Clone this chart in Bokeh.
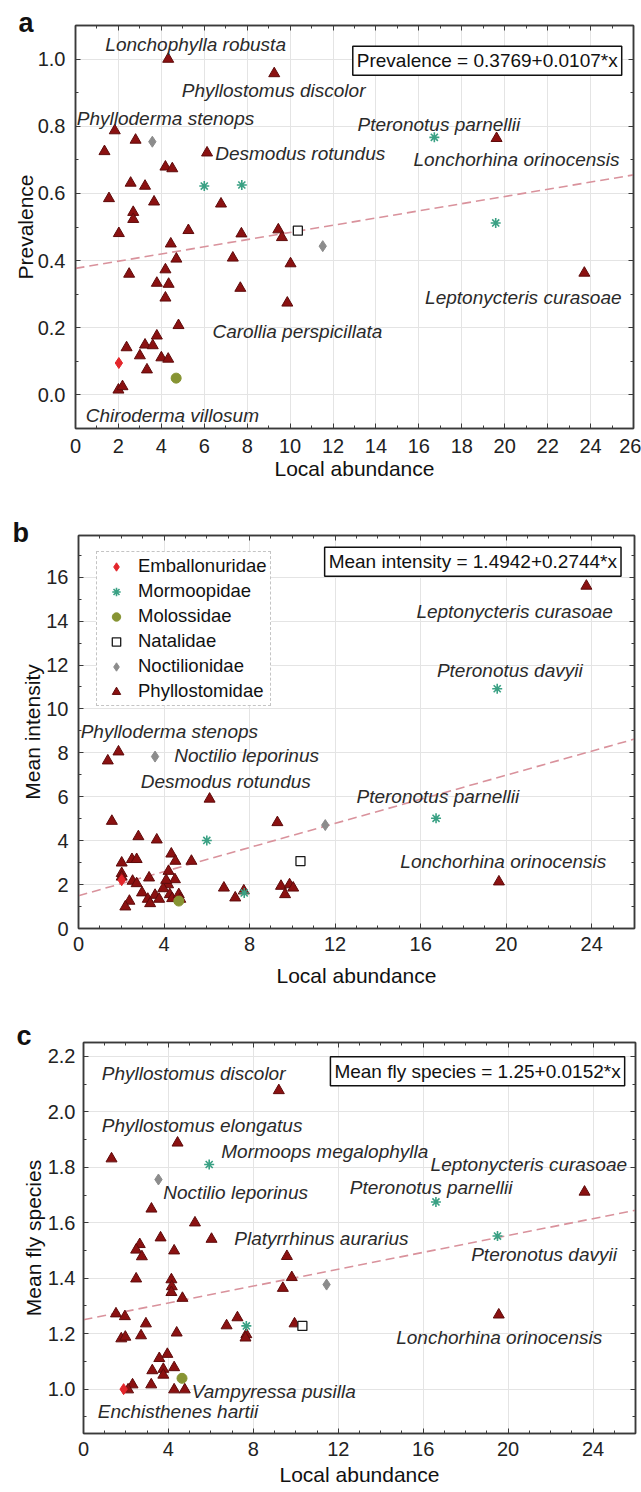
from bokeh.plotting import figure
from bokeh.models import (Range1d, SingleIntervalTicker, LinearAxis, Label, Legend, LegendItem,
                          ColumnDataSource, NumeralTickFormatter)
from bokeh.layouts import column
from bokeh.embed import file_html
from bokeh.resources import INLINE
from bokeh.core.properties import value

FONT = "Liberation Sans"

families = ["Emballonuridae", "Mormoopidae", "Molossidae", "Natalidae", "Noctilionidae", "Phyllostomidae"]

# ---------------- Panel a: Prevalence ----------------
a_phyllo_x = [4.32, 9.26, 1.83, 2.8, 1.35, 6.13, 4.19, 4.51, 2.57, 3.24, 1.56, 3.66, 6.78, 2.69, 2.69,
              2.02, 5.26, 7.73, 9.45, 9.62, 19.62, 4.44, 7.33, 4.70, 10.02, 2.5, 4.19, 3.79, 4.34, 7.68,
              4.19, 9.87, 23.71, 4.8, 3.79, 2.38, 3.24, 3.6, 3.0, 4.0, 4.32, 3.33, 2.0, 2.19]
a_phyllo_y = [1.0, 0.957, 0.787, 0.759, 0.725, 0.721, 0.679, 0.674, 0.631, 0.622, 0.585, 0.575, 0.569, 0.544, 0.523,
              0.481, 0.490, 0.480, 0.492, 0.469, 0.764, 0.450, 0.408, 0.405, 0.391, 0.360, 0.373, 0.333, 0.330, 0.318,
              0.289, 0.274, 0.363, 0.207, 0.176, 0.141, 0.149, 0.147, 0.117, 0.111, 0.107, 0.075, 0.015, 0.025]
a_mormo_x = [6.0, 7.75, 16.72, 19.58]
a_mormo_y = [0.622, 0.625, 0.767, 0.512]
a_moloss_x = [4.69]
a_moloss_y = [0.050]
a_natal_x = [10.36]
a_natal_y = [0.489]
a_noctil_x = [3.58, 11.52]
a_noctil_y = [0.754, 0.443]
a_emball_x = [2.02]
a_emball_y = [0.095]
a_intercept, a_slope = 0.3769, 0.0107
a_names = ["Lonchophylla robusta", "Phyllostomus discolor", "Phylloderma stenops", "Pteronotus parnellii",
           "Desmodus rotundus", "Lonchorhina orinocensis", "Leptonycteris curasoae", "Carollia perspicillata",
           "Chiroderma villosum"]

# ---------------- Panel b: Mean intensity ----------------
b_phyllo_x = [1.37, 1.87, 6.13, 1.56, 9.30, 2.8, 3.66, 4.34, 4.53, 5.28, 2.02, 2.5, 2.72, 4.21, 2.02,
              2.02, 2.53, 2.72, 3.3, 4.51, 4.19, 3.96, 6.8, 9.47, 9.87, 10.04, 9.66, 19.66, 7.33, 7.73,
              2.97, 3.58, 3.77, 3.24, 3.35, 4.27, 4.38, 4.69, 4.76, 2.38, 2.19, 23.75, 4.1]
b_phyllo_y = [7.64, 8.05, 5.9, 4.89, 4.83, 4.19, 4.04, 3.40, 3.07, 3.07, 2.99, 3.15, 3.15, 2.61, 2.51,
              2.35, 2.16, 2.05, 2.31, 2.23, 2.0, 1.82, 1.85, 1.93, 2.0, 1.85, 1.55, 2.13, 1.40, 1.72,
              1.63, 1.52, 1.34, 1.34, 1.14, 1.55, 1.37, 1.55, 1.34, 1.25, 0.99, 15.6, 2.2]
b_mormo_x = [6.0, 7.75, 16.72, 19.58]
b_mormo_y = [4.01, 1.62, 5.02, 10.92]
b_moloss_x = [4.69]
b_moloss_y = [1.25]
b_natal_x = [10.38]
b_natal_y = [3.07]
b_noctil_x = [3.58, 11.54]
b_noctil_y = [7.83, 4.71]
b_emball_x = [2.02]
b_emball_y = [2.2]
b_intercept, b_slope = 1.4942, 0.2744
b_names = ["Leptonycteris curasoae", "Pteronotus davyii", "Phylloderma stenops", "Noctilio leporinus",
           "Desmodus rotundus", "Pteronotus parnellii", "Lonchorhina orinocensis"]

# ---------------- Panel c: Mean fly species ----------------
c_phyllo_x = [9.2, 4.43, 1.32, 3.2, 23.6, 5.25, 3.63, 6.03, 2.65, 2.48, 2.75, 4.27, 9.58, 2.48, 4.14,
              4.16, 4.14, 9.81, 9.39, 4.66, 1.53, 1.95, 2.94, 2.71, 1.78, 1.97, 4.39, 7.25, 6.74, 7.67,
              7.63, 9.94, 19.56, 3.95, 3.57, 3.24, 3.76, 3.76, 4.27, 3.19, 2.31, 2.1, 4.27, 4.77]
c_phyllo_y = [2.077, 1.888, 1.831, 1.65, 1.711, 1.60, 1.546, 1.541, 1.522, 1.502, 1.478, 1.499, 1.479, 1.398, 1.395,
              1.370, 1.349, 1.403, 1.364, 1.328, 1.272, 1.262, 1.236, 1.193, 1.182, 1.188, 1.203, 1.258, 1.229, 1.197,
              1.185, 1.236, 1.268, 1.126, 1.111, 1.067, 1.072, 1.051, 1.078, 1.016, 1.016, 0.998, 0.998, 0.998]
c_mormo_x = [5.92, 7.67, 16.6, 19.5]
c_mormo_y = [1.810, 1.228, 1.675, 1.552]
c_moloss_x = [4.64]
c_moloss_y = [1.039]
c_natal_x = [10.31]
c_natal_y = [1.228]
c_noctil_x = [3.53, 11.45]
c_noctil_y = [1.756, 1.377]
c_emball_x = [1.89]
c_emball_y = [1.0]
c_intercept, c_slope = 1.25, 0.0152
c_names = ["Phyllostomus discolor", "Phyllostomus elongatus", "Mormoops megalophylla", "Leptonycteris curasoae",
           "Noctilio leporinus", "Pteronotus parnellii", "Platyrrhinus aurarius", "Pteronotus davyii",
           "Lonchorhina orinocensis", "Vampyressa pusilla", "Enchisthenes hartii"]

# ---------------- layout (label positions, not data) ----------------
a_lab_x = [1.39, 4.95, 0.06, 13.14, 6.51, 15.75, 16.29, 6.38, 0.48]
a_lab_y = [1.042, 0.905, 0.823, 0.806, 0.718, 0.701, 0.289, 0.189, -0.06]
b_lab_x = [15.8, 16.76, 0.1, 4.48, 2.91, 13.0, 15.05]
b_lab_y = [14.46, 11.77, 8.97, 7.9, 6.69, 6.0, 3.04]
c_lab_x = [0.86, 0.86, 6.49, 16.35, 3.76, 12.54, 7.1, 18.26, 14.73, 5.1, 0.67]
c_lab_y = [2.14, 1.951, 1.858, 1.81, 1.708, 1.726, 1.544, 1.484, 1.185, 0.992, 0.92]

STYLE = {
    "Emballonuridae": dict(marker="diamond", size=11, fill_color="#e3262b", line_color="#e3262b"),
    "Mormoopidae": dict(marker="asterisk", size=10, fill_color=None, line_color="#3aa184", line_width=1.6),
    "Molossidae": dict(marker="circle", size=10, fill_color="#879433", line_color="#879433"),
    "Natalidae": dict(marker="square", size=9, fill_color="white", line_color="#1a1a1a", line_width=1.3),
    "Noctilionidae": dict(marker="diamond", size=11, fill_color="#8c8c8c", line_color="#8c8c8c"),
    "Phyllostomidae": dict(marker="triangle", size=11, fill_color="#8b1111", line_color="#5e0b0b"),
}

AX = "#3a3a3a"


def style_axis(ax, interval, minor, fmt, show):
    ax.ticker = SingleIntervalTicker(interval=interval, num_minor_ticks=minor)
    ax.axis_line_color = AX
    ax.axis_line_width = 1.5
    ax.major_tick_in = 5
    ax.major_tick_out = 0
    ax.minor_tick_in = 3
    ax.minor_tick_out = 0
    ax.major_tick_line_color = AX
    ax.minor_tick_line_color = AX
    if show:
        ax.formatter = NumeralTickFormatter(format=fmt)
        ax.major_label_text_font = FONT
        ax.major_label_text_font_size = "20px"
        ax.major_label_text_color = "#222222"
        ax.axis_label_text_font = FONT
        ax.axis_label_text_font_size = "21px"
        ax.axis_label_text_font_style = "normal"
        ax.axis_label_text_color = "#111111"
    else:
        ax.major_label_text_font_size = "1px"
        ax.major_label_text_color = None
        ax.major_label_text_alpha = 0
        ax.major_label_standoff = 0
        ax.axis_label = None


def make_panel(cfg, series, names, lab_x, lab_y, intercept, slope, eq_name, eq_pos, letter, legend=False):
    y0, y1 = cfg["yr"]
    p = figure(frame_width=cfg["fw"], frame_height=cfg["fh"],
               min_border_left=cfg["bl"], min_border_right=cfg["br"],
               min_border_top=cfg["bt"], min_border_bottom=cfg["bb"],
               x_range=Range1d(0, 26), y_range=Range1d(y0, y1),
               output_backend="svg", toolbar_location=None, tools="")
    p.margin = (0, 0, 0, cfg["ml"])
    p.outline_line_color = AX
    p.outline_line_width = 1.5
    p.background_fill_color = "white"
    p.border_fill_color = "white"

    # panel letter as the title, pulled to the left and down beside the frame
    p.title.text = letter
    p.title.align = "left"
    p.title.offset = cfg["loff"]
    p.title.standoff = cfg["lst"]
    p.title.text_font = FONT
    p.title.text_font_size = "27px"
    p.title.text_font_style = "bold"
    p.title.text_color = "#111111"

    xa = p.xaxis[0]
    ya = p.yaxis[0]
    style_axis(xa, cfg["xi"], cfg["xm"], "0", True)
    style_axis(ya, cfg["yi"], cfg["ym"], cfg["yf"], True)
    xa.axis_label = "Local abundance"
    ya.axis_label = cfg["ylabel"]
    xa.major_label_standoff = cfg["xls"]
    xa.axis_label_standoff = cfg["xas"]
    ya.major_label_standoff = cfg["yls"]
    ya.axis_label_standoff = cfg["yas"]

    p.xgrid.ticker = xa.ticker
    p.ygrid.ticker = ya.ticker
    p.grid.grid_line_color = "#e4e4e4"
    p.grid.grid_line_width = 1

    top = LinearAxis()
    style_axis(top, cfg["xi"], cfg["xm"], "0", False)
    p.add_layout(top, "above")
    right = LinearAxis()
    style_axis(right, cfg["yi"], cfg["ym"], cfg["yf"], False)
    p.add_layout(right, "right")

    # regression line
    lx = [p.x_range.start, p.x_range.end]
    ly = [intercept + slope * v for v in lx]
    p.line(lx, ly, line_color="#d9929c", line_width=1.6, line_dash="9 5")

    # points (Phyllostomidae first, others on top)
    rends = {}
    order = ["Phyllostomidae", "Emballonuridae", "Mormoopidae", "Molossidae", "Natalidae", "Noctilionidae"]
    for fam in order:
        xs, ys = series[fam]
        st = STYLE[fam]
        rends[fam] = p.scatter(xs, ys, **st)

    # species labels
    src = ColumnDataSource(dict(x=lab_x, y=lab_y, t=names))
    p.text(x="x", y="y", text="t", source=src, text_font=value(FONT), text_font_style="italic",
           text_font_size="19px", text_color="#2a2a2a", text_align="left", text_baseline="middle")

    # equation box
    eq = Label(x=eq_pos[0], y=eq_pos[1], text=f"{eq_name} = {intercept}+{slope}*x",
               text_font=FONT, text_font_size="19px", text_color="#111111",
               text_align="left", text_baseline="middle",
               border_line_color="#111111", border_line_width=1.5,
               background_fill_color="white", padding=4)
    p.add_layout(eq)

    if legend:
        items = [LegendItem(label=f, renderers=[rends[f]]) for f in families]
        lg = Legend(items=items, location=(18, cfg["fh"] - 18 - 153), orientation="vertical",
                    label_text_font=FONT, label_text_font_size="18.5px", label_text_color="#111111",
                    label_height=21, glyph_height=21, glyph_width=32, label_standoff=6,
                    spacing=3, padding=3, margin=0,
                    border_line_color="#8a8a8a", border_line_dash="dotted", border_line_width=1.5,
                    background_fill_color="white", background_fill_alpha=1.0)
        p.add_layout(lg)
    return p


cfg_a = dict(fw=558, fh=403, bl=75, br=8, bt=25, bb=67, ml=0, yr=(-0.1, 1.1), xi=2, xm=2, yi=0.2, ym=2,
             yf="0.0", ylabel="Prevalence", xls=10, xas=1, yls=10, yas=-2, loff=-57, lst=-25)
cfg_b = dict(fw=556, fh=393, bl=75, br=7, bt=40, bb=72, ml=3, yr=(0, 17.9), xi=4, xm=4, yi=2, ym=2,
             yf="0", ylabel="Mean intensity", xls=8, xas=10, yls=10, yas=-1, loff=-66, lst=-25)
cfg_c = dict(fw=552, fh=391, bl=75, br=6, bt=42, bb=59, ml=8, yr=(0.84, 2.25), xi=4, xm=4, yi=0.2, ym=2,
             yf="0.0", ylabel="Mean fly species", xls=8, xas=4, yls=8, yas=0, loff=-67, lst=-17)

series_a = {"Phyllostomidae": (a_phyllo_x, a_phyllo_y), "Mormoopidae": (a_mormo_x, a_mormo_y),
            "Molossidae": (a_moloss_x, a_moloss_y), "Natalidae": (a_natal_x, a_natal_y),
            "Noctilionidae": (a_noctil_x, a_noctil_y), "Emballonuridae": (a_emball_x, a_emball_y)}
series_b = {"Phyllostomidae": (b_phyllo_x, b_phyllo_y), "Mormoopidae": (b_mormo_x, b_mormo_y),
            "Molossidae": (b_moloss_x, b_moloss_y), "Natalidae": (b_natal_x, b_natal_y),
            "Noctilionidae": (b_noctil_x, b_noctil_y), "Emballonuridae": (b_emball_x, b_emball_y)}
series_c = {"Phyllostomidae": (c_phyllo_x, c_phyllo_y), "Mormoopidae": (c_mormo_x, c_mormo_y),
            "Molossidae": (c_moloss_x, c_moloss_y), "Natalidae": (c_natal_x, c_natal_y),
            "Noctilionidae": (c_noctil_x, c_noctil_y), "Emballonuridae": (c_emball_x, c_emball_y)}

pa = make_panel(cfg_a, series_a, a_names, a_lab_x, a_lab_y, a_intercept, a_slope, "Prevalence",
                (12.92, 0.995), "a")
pb = make_panel(cfg_b, series_b, b_names, b_lab_x, b_lab_y, b_intercept, b_slope, "Mean intensity",
                (11.51, 16.7), "b", legend=True)
pc = make_panel(cfg_c, series_c, c_names, c_lab_x, c_lab_y, c_intercept, c_slope, "Mean fly species",
                (11.63, 2.146), "c")

layout = column(pa, pb, pc, spacing=0)
open("out.html", "w").write(file_html(layout, INLINE))
